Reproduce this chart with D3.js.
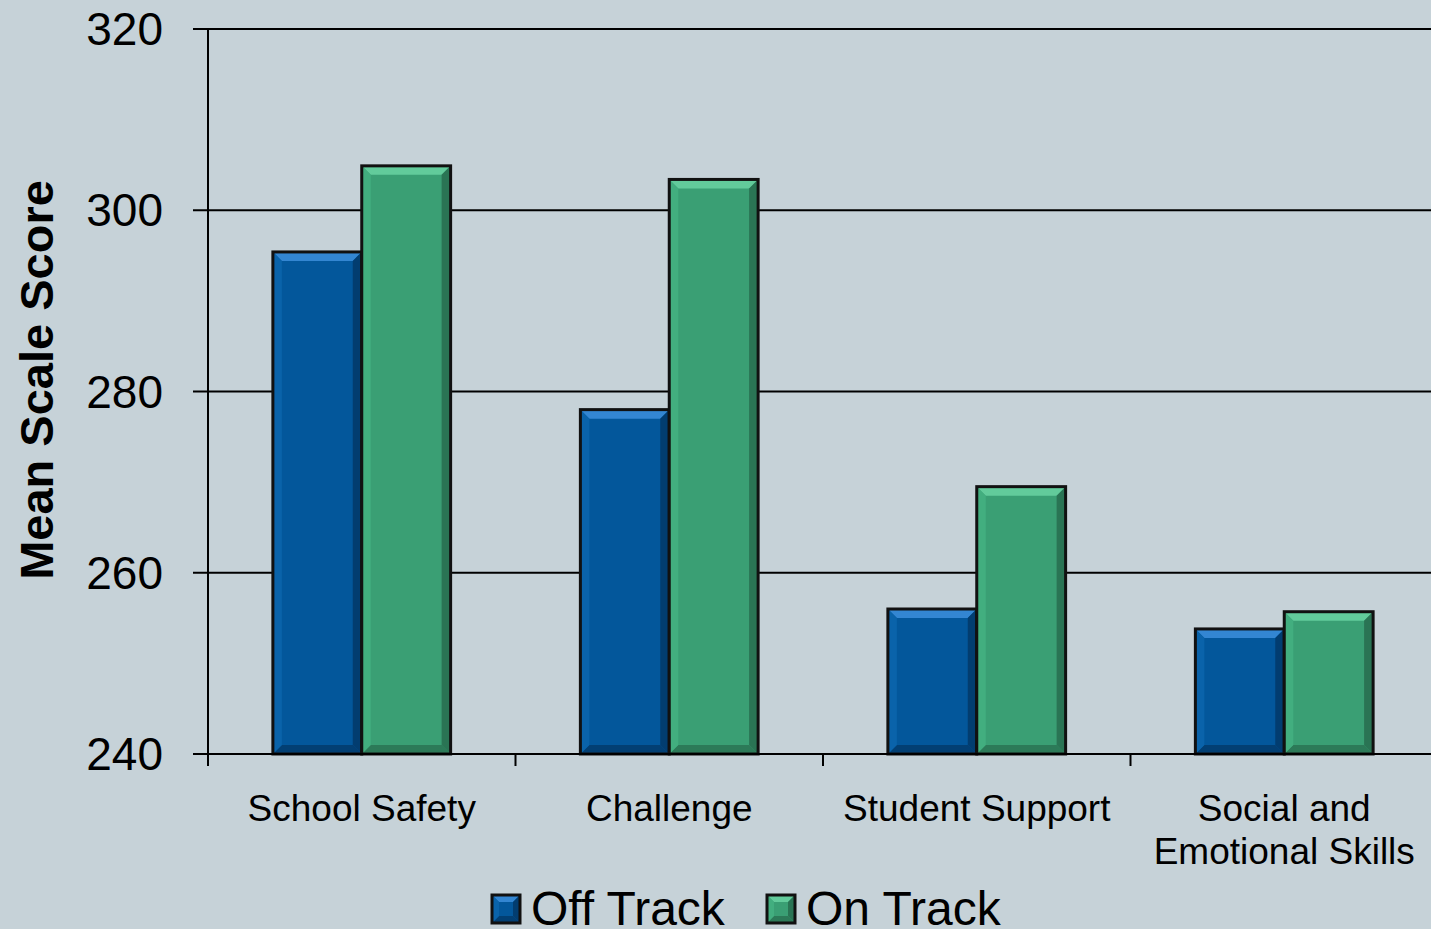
<!DOCTYPE html>
<html>
<head>
<meta charset="utf-8">
<script src="https://cdn.jsdelivr.net/npm/d3@7"></script>
<style>
  html, body { margin: 0; padding: 0; background: #c6d2d8; }
  svg { display: block; font-family: "Liberation Sans", Arial, sans-serif; }
</style>
</head>
<body>
<svg id="chart"></svg>
<script>
// chart values
var categories = ["School Safety", "Challenge", "Student Support", "Social and\nEmotional Skills"];
var seriesNames = ["Off Track", "On Track"];
var offTrack = [295.4, 278.0, 256.0, 253.8];
var onTrack = [304.9, 303.4, 269.5, 255.7];
var yTicks = [240, 260, 280, 300, 320];

var width = 1431;
var height = 929;
var margin = { top: 29, right: -7, bottom: 175, left: 208 };

var svg = d3.select("#chart")
  .attr("width", width)
  .attr("height", height);

svg.append("rect")
  .attr("width", width)
  .attr("height", height)
  .attr("fill", "#c6d2d8");

var plotW = width - margin.left - margin.right;
var plotH = height - margin.top - margin.bottom;

var g = svg.append("g")
  .attr("transform", "translate(" + margin.left + "," + margin.top + ")");

// scales
var x = d3.scaleBand()
  .domain(categories)
  .range([0, plotW])
  .paddingInner(0)
  .paddingOuter(0);

var x1 = d3.scaleBand()
  .domain(seriesNames)
  .range([0, x.bandwidth()])
  .paddingInner(0)
  .paddingOuter(0.73);

var y = d3.scaleLinear()
  .domain([240, 320])
  .range([plotH, 0]);

// colours per series: base, top bevel, bottom bevel, left, right
var palette = {
  "Off Track": { base: "#03579b", top: "#3386d2", bottom: "#023f73", left: "#0a63aa", right: "#023d70" },
  "On Track": { base: "#3a9f74", top: "#62cb9b", bottom: "#2c7a58", left: "#42ae7f", right: "#2a7454" }
};

// gridlines + y ticks
g.selectAll(".grid")
  .data(yTicks)
  .enter()
  .append("line")
  .attr("x1", -15)
  .attr("x2", plotW + 10)
  .attr("y1", d => y(d))
  .attr("y2", d => y(d))
  .attr("stroke", "#000")
  .attr("stroke-width", 2);

g.selectAll(".ylab")
  .data(yTicks)
  .enter()
  .append("text")
  .attr("x", -45)
  .attr("y", d => y(d) + 16)
  .attr("text-anchor", "end")
  .attr("font-size", "46px")
  .attr("fill", "#000")
  .text(d => d);

// y axis line
g.append("line")
  .attr("x1", 0).attr("x2", 0)
  .attr("y1", 0).attr("y2", plotH)
  .attr("stroke", "#000")
  .attr("stroke-width", 2);

// x ticks
g.selectAll(".xtick")
  .data(categories)
  .enter()
  .append("line")
  .attr("x1", d => x(d))
  .attr("x2", d => x(d))
  .attr("y1", plotH)
  .attr("y2", plotH + 12)
  .attr("stroke", "#000")
  .attr("stroke-width", 2);

// bevelled bar
function drawBar(sel, x0, y0, w, h, c, bev) {
  var b = Math.min(bev, h / 2);
  sel.append("rect")
    .attr("x", x0).attr("y", y0)
    .attr("width", w).attr("height", h)
    .attr("fill", c.base);
  var faces = [
    { pts: [[x0, y0], [x0 + w, y0], [x0 + w - b, y0 + b], [x0 + b, y0 + b]], fill: c.top },
    { pts: [[x0, y0 + h], [x0 + w, y0 + h], [x0 + w - b, y0 + h - b], [x0 + b, y0 + h - b]], fill: c.bottom },
    { pts: [[x0, y0], [x0 + b, y0 + b], [x0 + b, y0 + h - b], [x0, y0 + h]], fill: c.left },
    { pts: [[x0 + w, y0], [x0 + w - b, y0 + b], [x0 + w - b, y0 + h - b], [x0 + w, y0 + h]], fill: c.right }
  ];
  faces.forEach(function(f) {
    sel.append("polygon")
      .attr("points", f.pts.map(p => p.join(",")).join(" "))
      .attr("fill", f.fill);
  });
  sel.append("rect")
    .attr("x", x0).attr("y", y0)
    .attr("width", w).attr("height", h)
    .attr("fill", "none")
    .attr("stroke", "#111")
    .attr("stroke-width", 3);
}

var rows = categories.map(function(cat, i) {
  return { cat: cat, vals: [offTrack[i], onTrack[i]] };
});

rows.forEach(function(r) {
  var grp = g.append("g").attr("transform", "translate(" + x(r.cat) + ",0)");
  r.vals.forEach(function(v, j) {
    var s = seriesNames[j];
    drawBar(grp, x1(s), y(v), x1.bandwidth(), plotH - y(v), palette[s], 9);
  });
});

// x axis line drawn over bar bottoms
g.append("line")
  .attr("x1", -15).attr("x2", plotW + 10)
  .attr("y1", plotH).attr("y2", plotH)
  .attr("stroke", "#000")
  .attr("stroke-width", 2);

// category labels
g.selectAll(".xlab")
  .data(categories)
  .enter()
  .append("text")
  .attr("text-anchor", "middle")
  .attr("font-size", "37px")
  .attr("fill", "#000")
  .attr("transform", d => "translate(" + (x(d) + x.bandwidth() / 2) + "," + (plotH + 67) + ")")
  .each(function(d) {
    var t = d3.select(this);
    d.split("\n").forEach(function(line, k) {
      t.append("tspan")
        .attr("x", 0)
        .attr("dy", k === 0 ? 0 : 43)
        .text(line);
    });
  });

// y axis title
svg.append("text")
  .attr("transform", "translate(53,380) rotate(-90)")
  .attr("text-anchor", "middle")
  .attr("font-size", "47px")
  .attr("font-weight", "bold")
  .attr("fill", "#000")
  .text("Mean Scale Score");

// legend
var legendX = [492, 767];
var legend = svg.append("g");
seriesNames.forEach(function(s, j) {
  var lg = legend.append("g").attr("transform", "translate(" + legendX[j] + ",895)");
  drawBar(lg, 0, 0, 28, 28, palette[s], 7);
  lg.append("text")
    .attr("x", 39)
    .attr("y", 30)
    .attr("font-size", "48px")
    .attr("fill", "#000")
    .text(s);
});
</script>
</body>
</html>
